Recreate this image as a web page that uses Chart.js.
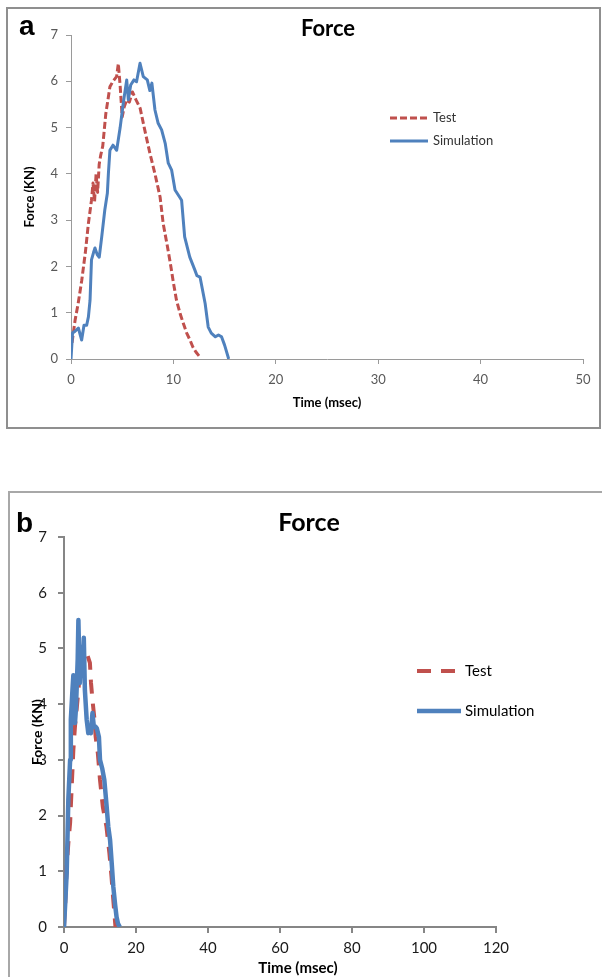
<!DOCTYPE html>
<html>
<head>
<meta charset="utf-8">
<script src="https://cdn.jsdelivr.net/npm/chart.js@4.4.0/dist/chart.umd.min.js"></script>
<style>
  html, body { margin: 0; padding: 0; background: #fff; overflow: hidden; }
  body { width: 602px; height: 977px; position: relative; }
  .box { position: absolute; box-sizing: border-box; }
  #boxA { left: 6px; top: 7px; width: 595px; height: 422px; border: 2px solid #8f8f8f; }
  #boxB { left: 8px; top: 491px; width: 610px; height: 520px; border: 2px solid #a8a8a8; }
  canvas { position: absolute; }
  #chartA { left: 0; top: 0; }
  #chartB { left: 0; top: 480px; }
</style>
</head>
<body>
<div class="box" id="boxA"></div>
<div class="box" id="boxB"></div>
<canvas id="chartA" width="602" height="440"></canvas>
<canvas id="chartB" width="602" height="497"></canvas>
<script>
// panel a
const testTimeA = [0.1, 0.4, 0.7, 1.05, 1.4, 1.7, 2.0, 2.15, 2.3, 2.45, 2.6, 2.75, 2.9, 3.1, 3.4, 3.8, 4.1, 4.45, 4.62, 4.8, 5.0, 5.2, 5.45, 5.7, 6.0, 6.35, 6.75, 7.2, 7.7, 8.2, 8.7, 9.0, 9.4, 9.7, 10.0, 10.3, 10.7, 11.0, 11.3, 11.6, 11.9, 12.2, 12.6];
const testForceA = [0.35, 0.84, 1.2, 1.7, 2.3, 2.93, 3.43, 3.8, 3.4, 4.0, 3.6, 4.2, 4.4, 4.6, 5.3, 5.88, 6.0, 6.1, 6.38, 5.9, 5.23, 5.45, 5.6, 5.55, 5.77, 5.6, 5.42, 4.95, 4.45, 4.0, 3.5, 2.93, 2.45, 2.07, 1.65, 1.27, 0.95, 0.75, 0.56, 0.42, 0.26, 0.15, 0.04];
const simTimeA = [0, 0.15, 0.4, 0.72, 1.04, 1.27, 1.53, 1.7, 1.86, 2.0, 2.2, 2.34, 2.57, 2.76, 3.0, 3.3, 3.55, 3.65, 3.8, 4.1, 4.46, 4.8, 5.1, 5.44, 5.6, 5.83, 6.15, 6.4, 6.74, 7.06, 7.45, 7.7, 7.9, 8.2, 8.5, 8.85, 9.2, 9.5, 9.83, 10.16, 10.6, 10.8, 11.1, 11.6, 12.1, 12.3, 12.6, 13.1, 13.4, 13.7, 14.1, 14.4, 14.7, 15.0, 15.4];
const simForceA = [0, 0.56, 0.6, 0.67, 0.41, 0.73, 0.73, 0.91, 1.27, 2.14, 2.3, 2.4, 2.25, 2.2, 2.64, 3.22, 3.58, 4.0, 4.51, 4.62, 4.51, 5.0, 5.52, 6.03, 5.6, 5.92, 6.03, 5.99, 6.39, 6.1, 6.03, 5.8, 5.96, 5.38, 5.1, 4.95, 4.66, 4.23, 4.08, 3.65, 3.5, 3.43, 2.64, 2.2, 1.92, 1.8, 1.77, 1.2, 0.69, 0.56, 0.48, 0.52, 0.48, 0.3, 0];
const xTicksA = [0, 10, 20, 30, 40, 50];

// panel b
const testTimeB = [0, 0.4, 0.75, 1.2, 1.7, 2.1, 2.6, 3.05, 3.5, 4.2, 4.8, 5.4, 5.9, 6.4, 6.9, 7.2, 7.5, 7.9, 8.4, 8.8, 9.4, 10.0, 10.8, 11.8, 12.6, 13.2, 13.8, 14.3];
const testForceB = [0, 0.5, 1.08, 1.5, 1.87, 2.46, 3.18, 3.6, 3.9, 4.4, 4.75, 4.95, 5.0, 4.9, 4.8, 4.74, 4.38, 4.08, 3.77, 3.41, 3.12, 2.64, 2.15, 1.8, 1.33, 0.9, 0.4, 0];
const simTimeB = [0, 0.4, 0.75, 1.2, 1.7, 1.9, 2.3, 2.6, 2.85, 3.05, 3.3, 3.5, 3.8, 4.0, 4.2, 4.4, 4.7, 4.9, 5.2, 5.5, 5.8, 6.3, 6.75, 7.1, 7.5, 7.9, 8.3, 8.7, 9.1, 9.7, 10.0, 10.6, 11.2, 11.8, 12.3, 12.8, 13.3, 13.7, 14.2, 14.6, 15.0, 15.5];
const simForceB = [0, 0.5, 0.97, 2.28, 3.0, 3.72, 4.2, 4.52, 4.2, 3.66, 3.9, 4.25, 4.8, 5.51, 4.9, 4.38, 4.8, 5.03, 4.6, 5.19, 4.25, 3.72, 3.48, 3.55, 3.48, 3.84, 3.59, 3.6, 3.57, 3.41, 3.0, 2.85, 2.64, 2.2, 1.8, 1.56, 1.1, 0.72, 0.4, 0.18, 0.06, 0];
const xTicksB = [0, 20, 40, 60, 80, 100, 120];

const yTicks = [0, 1, 2, 3, 4, 5, 6, 7];
const seriesNames = ['Test', 'Simulation'];

const RED = '#C0504D';
const BLUE = '#4F81BD';

const toPoints = (xs, ys) => xs.map((x, i) => ({ x, y: ys[i] }));

// letter, title, legend (and an off-centre axis title for b) drawn at fixed spots like the original figure
const panelDecor = {
  id: 'panelDecor',
  afterDraw(chart, args, o) {
    const ctx = chart.ctx;
    ctx.save();
    ctx.fillStyle = '#000';
    ctx.font = 'bold 28px "Liberation Sans"';
    ctx.textAlign = 'left';
    ctx.textBaseline = 'alphabetic';
    ctx.fillText(o.letter, o.letterX, o.letterY);

    ctx.font = `bold ${o.titleSize}px Lato`;
    ctx.textAlign = 'center';
    ctx.textBaseline = 'middle';
    ctx.fillText(o.title, o.titleX, o.titleY);

    if (o.xTitle) {
      ctx.font = `bold ${o.xTitleSize}px Lato`;
      ctx.fillText(o.xTitle, o.xTitleX, o.xTitleY);
    }

    ctx.font = `${o.legendSize}px Lato`;
    ctx.textAlign = 'left';
    chart.data.datasets.forEach((ds, i) => {
      const y = o.legendY[i];
      ctx.strokeStyle = ds.borderColor;
      ctx.lineWidth = ds.borderWidth;
      ctx.lineCap = 'butt';
      ctx.setLineDash(ds.borderDash || []);
      ctx.beginPath();
      ctx.moveTo(o.legendX, y);
      ctx.lineTo(o.legendX + o.legendLen, y);
      ctx.stroke();
      ctx.setLineDash([]);
      ctx.fillStyle = o.legendColor;
      ctx.fillText(ds.label, o.legendX + o.legendLen + o.legendGap, y);
    });
    ctx.restore();
  }
};

function axis(opts) {
  return {
    type: 'linear',
    min: opts.min, max: opts.max,
    afterBuildTicks: s => { s.ticks = opts.ticks.map(v => ({ value: v })); },
    afterFit: s => { if (opts.width) s.width = opts.width; if (opts.height) s.height = opts.height; },
    border: { display: true, color: opts.lineColor, width: opts.lineWidth },
    grid: { drawOnChartArea: false, drawTicks: true, tickLength: opts.tickLength, color: opts.lineColor, lineWidth: opts.lineWidth },
    ticks: { padding: opts.pad, color: opts.tickColor, font: { family: 'Lato', size: opts.tickSize } },
    title: {
      display: !!opts.title, text: opts.title || '', color: '#000',
      font: { family: 'Lato', size: opts.titleSize, weight: 'bold' },
      padding: opts.titlePad
    }
  };
}

// panel a
new Chart(document.getElementById('chartA'), {
  type: 'line',
  data: {
    datasets: [
      { label: seriesNames[0], data: toPoints(testTimeA, testForceA), borderColor: RED, borderWidth: 3, borderDash: [7, 3], order: 1 },
      { label: seriesNames[1], data: toPoints(simTimeA, simForceA), borderColor: BLUE, borderWidth: 3, order: 0 }
    ]
  },
  options: {
    responsive: false,
    devicePixelRatio: 1,
    animation: false,
    layout: { padding: { left: 0, right: 19, top: 35, bottom: 0 } },
    elements: { point: { radius: 0 }, line: { tension: 0, borderJoinStyle: 'round' } },
    plugins: {
      legend: { display: false },
      tooltip: { enabled: false },
      panelDecor: {
        letter: 'a', letterX: 19, letterY: 35,
        title: 'Force', titleSize: 22, titleX: 328, titleY: 29,
        legendX: 390, legendLen: 38, legendGap: 5, legendY: [118, 141], legendSize: 13, legendColor: '#333'
      }
    },
    scales: {
      x: axis({ min: 0, max: 50, ticks: xTicksA, height: 81, lineColor: '#9a9a9a', lineWidth: 1, tickLength: 5, pad: 8,
                tickColor: '#595959', tickSize: 13, title: 'Time (msec)', titleSize: 13, titlePad: { top: 0, bottom: 29 } }),
      y: axis({ min: 0, max: 7, ticks: yTicks, width: 71, lineColor: '#9a9a9a', lineWidth: 1, tickLength: 5, pad: 8,
                tickColor: '#595959', tickSize: 13, title: 'Force (KN)', titleSize: 13, titlePad: { top: 22, bottom: 0 } })
    }
  },
  plugins: [panelDecor]
});

// panel b
new Chart(document.getElementById('chartB'), {
  type: 'line',
  data: {
    datasets: [
      { label: seriesNames[0], data: toPoints(testTimeB, testForceB), borderColor: RED, borderWidth: 4, borderDash: [14, 10], order: 1 },
      { label: seriesNames[1], data: toPoints(simTimeB, simForceB), borderColor: BLUE, borderWidth: 4.5, order: 0 }
    ]
  },
  options: {
    responsive: false,
    devicePixelRatio: 1,
    animation: false,
    layout: { padding: { left: 0, right: 106, top: 57, bottom: 0 } },
    elements: { point: { radius: 0 }, line: { tension: 0, borderJoinStyle: 'round' } },
    plugins: {
      legend: { display: false },
      tooltip: { enabled: false },
      panelDecor: {
        letter: 'b', letterX: 16, letterY: 52,
        title: 'Force', titleSize: 25, titleX: 309, titleY: 43,
        xTitle: 'Time (msec)', xTitleSize: 15, xTitleX: 298, xTitleY: 488,
        legendX: 417, legendLen: 44, legendGap: 4, legendY: [191, 231], legendSize: 15, legendColor: '#000'
      }
    },
    scales: {
      x: axis({ min: 0, max: 120, ticks: xTicksB, height: 50, lineColor: '#868686', lineWidth: 2, tickLength: 6, pad: 6,
                tickColor: '#1a1a1a', tickSize: 15, titleSize: 15, titlePad: { top: 0, bottom: 0 } }),
      y: axis({ min: 0, max: 7, ticks: yTicks, width: 64, lineColor: '#868686', lineWidth: 2, tickLength: 6, pad: 11,
                tickColor: '#1a1a1a', tickSize: 15, title: 'Force (KN)', titleSize: 14, titlePad: { top: 29, bottom: 0 } })
    }
  },
  plugins: [panelDecor]
});
</script>
</body>
</html>
